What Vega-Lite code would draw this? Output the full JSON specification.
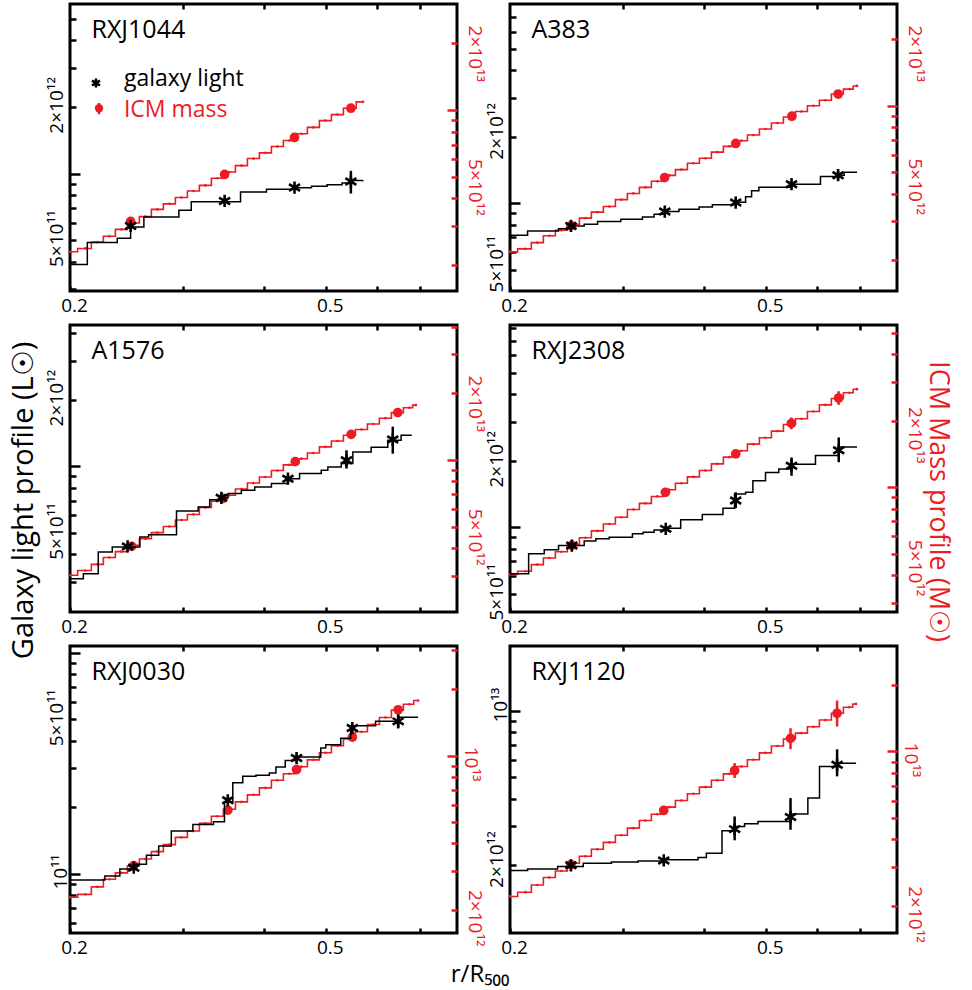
{
"$schema":"https://vega.github.io/schema/vega-lite/v6.json",
"padding":{"left":7,"top":1,"right":7,"bottom":0},
"background":"white",
"bounds":"flush",
"title":{"text":"r/R₅₀₀","orient":"bottom","anchor":"middle","fontSize":24,"font":"Open Sans","fontWeight":"normal","offset":4,"color":"black"},
"config":{"font":"Open Sans","view":{"stroke":"black","strokeWidth":3},
"axis":{"domain":false,"grid":false,"labelFont":"Open Sans","labelFontSize":19,"labelColor":"black","tickColor":"black","tickWidth":2.5,"titleFont":"Open Sans","titleFontWeight":"normal"},
"point":{"opacity":1}},
"datasets":{"d":[
{"p":1,"s":"L","r":0.2,"v":3.89e11},{"p":1,"s":"L","r":0.2128,"v":4.88e11},{"p":1,"s":"L","r":0.2369,"v":5.10e11},{"p":1,"s":"L","r":0.2485,"v":5.74e11},{"p":1,"s":"L","r":0.2606,"v":6.37e11},{"p":1,"s":"L","r":0.2954,"v":6.83e11},{"p":1,"s":"L","r":0.3088,"v":7.45e11},{"p":1,"s":"L","r":0.3684,"v":8.26e11},{"p":1,"s":"L","r":0.4043,"v":8.50e11},{"p":1,"s":"L","r":0.4474,"v":8.62e11},{"p":1,"s":"L","r":0.475,"v":8.75e11},{"p":1,"s":"L","r":0.5023,"v":8.90e11},{"p":1,"s":"L","r":0.53,"v":9.05e11},{"p":1,"s":"L","r":0.5474,"v":9.30e11},{"p":1,"s":"L","r":0.5714,"v":9.33e11},
{"p":1,"s":"Lp","r":0.2485,"v":5.80e11},{"p":1,"s":"Lp","r":0.348,"v":7.52e11},{"p":1,"s":"Lp","r":0.447,"v":8.64e11},{"p":1,"s":"Lp","r":0.547,"v":9.2e11,"lo":8.12e11,"hi":1.028e12},
{"p":1,"s":"M","r":0.2,"v":2.30e12},{"p":1,"s":"M","r":0.2113,"v":2.38e12},{"p":1,"s":"M","r":0.2206,"v":2.54e12},{"p":1,"s":"M","r":0.2303,"v":2.70e12},{"p":1,"s":"M","r":0.2404,"v":2.90e12},{"p":1,"s":"M","r":0.2510,"v":3.10e12},{"p":1,"s":"M","r":0.2620,"v":3.31e12},{"p":1,"s":"M","r":0.2735,"v":3.57e12},{"p":1,"s":"M","r":0.2855,"v":3.78e12},{"p":1,"s":"M","r":0.2981,"v":4.04e12},{"p":1,"s":"M","r":0.3112,"v":4.32e12},{"p":1,"s":"M","r":0.3248,"v":4.58e12},{"p":1,"s":"M","r":0.3391,"v":4.93e12},{"p":1,"s":"M","r":0.3540,"v":5.26e12},{"p":1,"s":"M","r":0.3696,"v":5.62e12},{"p":1,"s":"M","r":0.3858,"v":6.05e12},{"p":1,"s":"M","r":0.4028,"v":6.42e12},{"p":1,"s":"M","r":0.4204,"v":6.86e12},{"p":1,"s":"M","r":0.4389,"v":7.30e12},{"p":1,"s":"M","r":0.4582,"v":7.83e12},{"p":1,"s":"M","r":0.4783,"v":8.36e12},{"p":1,"s":"M","r":0.4993,"v":8.97e12},{"p":1,"s":"M","r":0.5213,"v":9.55e12},{"p":1,"s":"M","r":0.5441,"v":1.02e13},{"p":1,"s":"M","r":0.5714,"v":1.09e13},
{"p":1,"s":"Mp","r":0.2485,"v":3.15e12},{"p":1,"s":"Mp","r":0.348,"v":5.13e12},{"p":1,"s":"Mp","r":0.447,"v":7.53e12},{"p":1,"s":"Mp","r":0.547,"v":1.02e13},
{"p":1,"s":"lab","r":0.216,"v":4.08e12,"t":"RXJ1044"},
{"p":1,"s":"legs","r":0.2195,"v":2.56e12},{"p":1,"s":"legd","r":0.2219,"v":1.97e12,"lo":1.85e12,"hi":2.08e12},
{"p":1,"s":"legL","r":0.2426,"v":2.48e12,"t":"galaxy light"},{"p":1,"s":"legM","r":0.2426,"v":1.80e12,"t":"ICM mass"},

{"p":2,"s":"L","r":0.2,"v":7.16e11},{"p":2,"s":"L","r":0.2130,"v":7.49e11},{"p":2,"s":"L","r":0.2380,"v":7.67e11},{"p":2,"s":"L","r":0.2488,"v":7.89e11},{"p":2,"s":"L","r":0.2609,"v":8.03e11},{"p":2,"s":"L","r":0.2737,"v":8.26e11},{"p":2,"s":"L","r":0.2975,"v":8.46e11},{"p":2,"s":"L","r":0.3214,"v":8.67e11},{"p":2,"s":"L","r":0.3351,"v":8.91e11},{"p":2,"s":"L","r":0.3482,"v":9.17e11},{"p":2,"s":"L","r":0.3664,"v":9.39e11},{"p":2,"s":"L","r":0.3937,"v":9.62e11},{"p":2,"s":"L","r":0.4129,"v":9.83e11},{"p":2,"s":"L","r":0.4489,"v":1.01e12},{"p":2,"s":"L","r":0.4651,"v":1.07e12},{"p":2,"s":"L","r":0.4752,"v":1.14e12},{"p":2,"s":"L","r":0.4878,"v":1.18e12},{"p":2,"s":"L","r":0.5483,"v":1.22e12},{"p":2,"s":"L","r":0.6082,"v":1.32e12},{"p":2,"s":"L","r":0.6478,"v":1.34e12},{"p":2,"s":"L","r":0.662,"v":1.38e12},{"p":2,"s":"L","r":0.6933,"v":1.38e12},
{"p":2,"s":"Lp","r":0.2488,"v":7.89e11},{"p":2,"s":"Lp","r":0.3482,"v":9.17e11},{"p":2,"s":"Lp","r":0.4489,"v":1.007e12},{"p":2,"s":"Lp","r":0.5483,"v":1.22e12},{"p":2,"s":"Lp","r":0.6478,"v":1.34e12,"lo":1.28e12,"hi":1.40e12},
{"p":2,"s":"M","r":0.2,"v":2.18e12},{"p":2,"s":"M","r":0.2113,"v":2.25e12},{"p":2,"s":"M","r":0.2206,"v":2.40e12},{"p":2,"s":"M","r":0.2303,"v":2.58e12},{"p":2,"s":"M","r":0.2404,"v":2.73e12},{"p":2,"s":"M","r":0.2510,"v":2.91e12},{"p":2,"s":"M","r":0.2620,"v":3.10e12},{"p":2,"s":"M","r":0.2735,"v":3.30e12},{"p":2,"s":"M","r":0.2855,"v":3.50e12},{"p":2,"s":"M","r":0.2981,"v":3.76e12},{"p":2,"s":"M","r":0.3112,"v":4.01e12},{"p":2,"s":"M","r":0.3248,"v":4.27e12},{"p":2,"s":"M","r":0.3391,"v":4.55e12},{"p":2,"s":"M","r":0.3540,"v":4.84e12},{"p":2,"s":"M","r":0.3696,"v":5.14e12},{"p":2,"s":"M","r":0.3858,"v":5.49e12},{"p":2,"s":"M","r":0.4028,"v":5.79e12},{"p":2,"s":"M","r":0.4204,"v":6.17e12},{"p":2,"s":"M","r":0.4389,"v":6.55e12},{"p":2,"s":"M","r":0.4582,"v":6.95e12},{"p":2,"s":"M","r":0.4783,"v":7.37e12},{"p":2,"s":"M","r":0.4993,"v":7.85e12},{"p":2,"s":"M","r":0.5213,"v":8.36e12},{"p":2,"s":"M","r":0.5441,"v":8.89e12},{"p":2,"s":"M","r":0.5681,"v":9.42e12},{"p":2,"s":"M","r":0.5930,"v":1.00e13},{"p":2,"s":"M","r":0.6190,"v":1.06e13},{"p":2,"s":"M","r":0.6462,"v":1.13e13},{"p":2,"s":"M","r":0.6746,"v":1.19e13},{"p":2,"s":"M","r":0.6933,"v":1.23e13},
{"p":2,"s":"Mp","r":0.249,"v":2.87e12},{"p":2,"s":"Mp","r":0.348,"v":4.73e12},{"p":2,"s":"Mp","r":0.449,"v":6.75e12},{"p":2,"s":"Mp","r":0.549,"v":8.97e12},{"p":2,"s":"Mp","r":0.648,"v":1.13e13},
{"p":2,"s":"lab","r":0.216,"v":5.61e12,"t":"A383"},

{"p":3,"s":"L","r":0.2,"v":3.11e11},{"p":3,"s":"L","r":0.2098,"v":3.27e11},{"p":3,"s":"L","r":0.2213,"v":4.10e11},{"p":3,"s":"L","r":0.2327,"v":4.32e11},{"p":3,"s":"L","r":0.2569,"v":4.80e11},{"p":3,"s":"L","r":0.2650,"v":4.91e11},{"p":3,"s":"L","r":0.2929,"v":6.28e11},{"p":3,"s":"L","r":0.3165,"v":6.55e11},{"p":3,"s":"L","r":0.3299,"v":7.07e11},{"p":3,"s":"L","r":0.3440,"v":7.21e11},{"p":3,"s":"L","r":0.3523,"v":7.53e11},{"p":3,"s":"L","r":0.3695,"v":7.80e11},{"p":3,"s":"L","r":0.3876,"v":8.07e11},{"p":3,"s":"L","r":0.4115,"v":8.36e11},{"p":3,"s":"L","r":0.4366,"v":8.79e11},{"p":3,"s":"L","r":0.4552,"v":9.27e11},{"p":3,"s":"L","r":0.4919,"v":9.60e11},{"p":3,"s":"L","r":0.5037,"v":9.93e11},{"p":3,"s":"L","r":0.5284,"v":1.03e12},{"p":3,"s":"L","r":0.5509,"v":1.16e12},{"p":3,"s":"L","r":0.5882,"v":1.22e12},{"p":3,"s":"L","r":0.6244,"v":1.31e12},{"p":3,"s":"L","r":0.6548,"v":1.38e12},{"p":3,"s":"L","r":0.6803,"v":1.38e12},
{"p":3,"s":"Lp","r":0.2458,"v":4.35e11},{"p":3,"s":"Lp","r":0.3440,"v":7.21e11},{"p":3,"s":"Lp","r":0.4366,"v":8.79e11},{"p":3,"s":"Lp","r":0.5385,"v":1.064e12,"lo":9.76e11,"hi":1.18e12},{"p":3,"s":"Lp","r":0.6356,"v":1.32e12,"lo":1.14e12,"hi":1.51e12},
{"p":3,"s":"M","r":0.2,"v":3.02e12},{"p":3,"s":"M","r":0.2113,"v":3.17e12},{"p":3,"s":"M","r":0.2206,"v":3.38e12},{"p":3,"s":"M","r":0.2303,"v":3.63e12},{"p":3,"s":"M","r":0.2404,"v":3.86e12},{"p":3,"s":"M","r":0.2510,"v":4.12e12},{"p":3,"s":"M","r":0.2620,"v":4.41e12},{"p":3,"s":"M","r":0.2735,"v":4.70e12},{"p":3,"s":"M","r":0.2855,"v":5.01e12},{"p":3,"s":"M","r":0.2981,"v":5.36e12},{"p":3,"s":"M","r":0.3112,"v":5.68e12},{"p":3,"s":"M","r":0.3248,"v":6.10e12},{"p":3,"s":"M","r":0.3391,"v":6.52e12},{"p":3,"s":"M","r":0.3540,"v":6.93e12},{"p":3,"s":"M","r":0.3696,"v":7.40e12},{"p":3,"s":"M","r":0.3858,"v":7.87e12},{"p":3,"s":"M","r":0.4028,"v":8.38e12},{"p":3,"s":"M","r":0.4204,"v":8.97e12},{"p":3,"s":"M","r":0.4389,"v":9.51e12},{"p":3,"s":"M","r":0.4582,"v":1.014e13},{"p":3,"s":"M","r":0.4783,"v":1.076e13},{"p":3,"s":"M","r":0.4993,"v":1.146e13},{"p":3,"s":"M","r":0.5213,"v":1.219e13},{"p":3,"s":"M","r":0.5441,"v":1.294e13},{"p":3,"s":"M","r":0.5681,"v":1.374e13},{"p":3,"s":"M","r":0.5930,"v":1.455e13},{"p":3,"s":"M","r":0.6190,"v":1.545e13},{"p":3,"s":"M","r":0.6462,"v":1.637e13},{"p":3,"s":"M","r":0.6746,"v":1.722e13},{"p":3,"s":"M","r":0.6906,"v":1.770e13},
{"p":3,"s":"Mp","r":0.2494,"v":4.08e12},{"p":3,"s":"Mp","r":0.3461,"v":6.71e12},{"p":3,"s":"Mp","r":0.4483,"v":9.83e12},{"p":3,"s":"Mp","r":0.5476,"v":1.306e13},{"p":3,"s":"Mp","r":0.647,"v":1.637e13},
{"p":3,"s":"lab","r":0.216,"v":3.05e12,"t":"A1576"},

{"p":4,"s":"L","r":0.2,"v":6.15e11},{"p":4,"s":"L","r":0.2138,"v":7.58e11},{"p":4,"s":"L","r":0.2261,"v":7.90e11},{"p":4,"s":"L","r":0.2380,"v":8.26e11},{"p":4,"s":"L","r":0.2609,"v":8.65e11},{"p":4,"s":"L","r":0.2720,"v":8.86e11},{"p":4,"s":"L","r":0.2853,"v":9.01e11},{"p":4,"s":"L","r":0.3101,"v":9.33e11},{"p":4,"s":"L","r":0.3222,"v":9.49e11},{"p":4,"s":"L","r":0.3351,"v":9.72e11},{"p":4,"s":"L","r":0.3494,"v":9.90e11},{"p":4,"s":"L","r":0.3686,"v":1.08e12},{"p":4,"s":"L","r":0.3983,"v":1.141e12},{"p":4,"s":"L","r":0.4289,"v":1.22e12},{"p":4,"s":"L","r":0.4470,"v":1.415e12},{"p":4,"s":"L","r":0.4651,"v":1.44e12},{"p":4,"s":"L","r":0.4774,"v":1.625e12},{"p":4,"s":"L","r":0.4995,"v":1.77e12},{"p":4,"s":"L","r":0.5239,"v":1.835e12},{"p":4,"s":"L","r":0.5483,"v":1.93e12},{"p":4,"s":"L","r":0.5974,"v":2.11e12},{"p":4,"s":"L","r":0.6493,"v":2.31e12},{"p":4,"s":"L","r":0.6933,"v":2.31e12},
{"p":4,"s":"Lp","r":0.2496,"v":8.26e11},{"p":4,"s":"Lp","r":0.3494,"v":9.83e11},{"p":4,"s":"Lp","r":0.4489,"v":1.32e12,"lo":1.22e12,"hi":1.44e12},{"p":4,"s":"Lp","r":0.5483,"v":1.90e12,"lo":1.71e12,"hi":2.07e12},{"p":4,"s":"Lp","r":0.6493,"v":2.23e12,"lo":1.97e12,"hi":2.55e12},
{"p":4,"s":"M","r":0.2,"v":4.02e12},{"p":4,"s":"M","r":0.2113,"v":4.16e12},{"p":4,"s":"M","r":0.2206,"v":4.46e12},{"p":4,"s":"M","r":0.2303,"v":4.78e12},{"p":4,"s":"M","r":0.2404,"v":5.10e12},{"p":4,"s":"M","r":0.2510,"v":5.50e12},{"p":4,"s":"M","r":0.2620,"v":5.90e12},{"p":4,"s":"M","r":0.2735,"v":6.34e12},{"p":4,"s":"M","r":0.2855,"v":6.81e12},{"p":4,"s":"M","r":0.2981,"v":7.31e12},{"p":4,"s":"M","r":0.3112,"v":7.92e12},{"p":4,"s":"M","r":0.3248,"v":8.45e12},{"p":4,"s":"M","r":0.3391,"v":9.08e12},{"p":4,"s":"M","r":0.3540,"v":9.73e12},{"p":4,"s":"M","r":0.3696,"v":1.042e13},{"p":4,"s":"M","r":0.3858,"v":1.114e13},{"p":4,"s":"M","r":0.4028,"v":1.19e13},{"p":4,"s":"M","r":0.4204,"v":1.276e13},{"p":4,"s":"M","r":0.4389,"v":1.368e13},{"p":4,"s":"M","r":0.4582,"v":1.462e13},{"p":4,"s":"M","r":0.4783,"v":1.567e13},{"p":4,"s":"M","r":0.4993,"v":1.675e13},{"p":4,"s":"M","r":0.5213,"v":1.795e13},{"p":4,"s":"M","r":0.5441,"v":1.923e13},{"p":4,"s":"M","r":0.5681,"v":2.042e13},{"p":4,"s":"M","r":0.5930,"v":2.203e13},{"p":4,"s":"M","r":0.6190,"v":2.360e13},{"p":4,"s":"M","r":0.6462,"v":2.523e13},{"p":4,"s":"M","r":0.6746,"v":2.679e13},{"p":4,"s":"M","r":0.6933,"v":2.780e13},
{"p":4,"s":"Mp","r":0.2496,"v":5.45e12},{"p":4,"s":"Mp","r":0.349,"v":9.48e12},{"p":4,"s":"Mp","r":0.449,"v":1.416e13},{"p":4,"s":"Mp","r":0.548,"v":1.945e13,"lo":1.83e13,"hi":2.07e13},{"p":4,"s":"Mp","r":0.649,"v":2.535e13,"lo":2.36e13,"hi":2.72e13},
{"p":4,"s":"lab","r":0.216,"v":5.78e12,"t":"RXJ2308"},

{"p":5,"s":"L","r":0.2,"v":9.36e10},{"p":5,"s":"L","r":0.2266,"v":9.76e10},{"p":5,"s":"L","r":0.2391,"v":1.05e11},{"p":5,"s":"L","r":0.2507,"v":1.102e11},{"p":5,"s":"L","r":0.2630,"v":1.21e11},{"p":5,"s":"L","r":0.2748,"v":1.333e11},{"p":5,"s":"L","r":0.2875,"v":1.56e11},{"p":5,"s":"L","r":0.3106,"v":1.67e11},{"p":5,"s":"L","r":0.3344,"v":1.718e11},{"p":5,"s":"L","r":0.3478,"v":2.11e11},{"p":5,"s":"L","r":0.3583,"v":2.58e11},{"p":5,"s":"L","r":0.3713,"v":2.76e11},{"p":5,"s":"L","r":0.3894,"v":2.79e11},{"p":5,"s":"L","r":0.4084,"v":2.86e11},{"p":5,"s":"L","r":0.4182,"v":3.04e11},{"p":5,"s":"L","r":0.4324,"v":3.26e11},{"p":5,"s":"L","r":0.4503,"v":3.38e11},{"p":5,"s":"L","r":0.4911,"v":3.71e11},{"p":5,"s":"L","r":0.4999,"v":3.84e11},{"p":5,"s":"L","r":0.5275,"v":4.11e11},{"p":5,"s":"L","r":0.5466,"v":4.68e11},{"p":5,"s":"L","r":0.5976,"v":4.90e11},{"p":5,"s":"L","r":0.6495,"v":5.12e11},{"p":5,"s":"L","r":0.6959,"v":5.12e11},
{"p":5,"s":"Lp","r":0.2513,"v":1.064e11},{"p":5,"s":"Lp","r":0.352,"v":2.15e11},{"p":5,"s":"Lp","r":0.4503,"v":3.34e11},{"p":5,"s":"Lp","r":0.5499,"v":4.57e11},{"p":5,"s":"Lp","r":0.648,"v":4.90e11,"lo":4.55e11,"hi":5.28e11},
{"p":5,"s":"M","r":0.2,"v":2.28e12},{"p":5,"s":"M","r":0.2113,"v":2.35e12},{"p":5,"s":"M","r":0.2206,"v":2.54e12},{"p":5,"s":"M","r":0.2303,"v":2.75e12},{"p":5,"s":"M","r":0.2404,"v":2.94e12},{"p":5,"s":"M","r":0.2510,"v":3.16e12},{"p":5,"s":"M","r":0.2620,"v":3.40e12},{"p":5,"s":"M","r":0.2735,"v":3.67e12},{"p":5,"s":"M","r":0.2855,"v":3.95e12},{"p":5,"s":"M","r":0.2981,"v":4.26e12},{"p":5,"s":"M","r":0.3112,"v":4.55e12},{"p":5,"s":"M","r":0.3248,"v":4.93e12},{"p":5,"s":"M","r":0.3391,"v":5.31e12},{"p":5,"s":"M","r":0.3540,"v":5.71e12},{"p":5,"s":"M","r":0.3696,"v":6.17e12},{"p":5,"s":"M","r":0.3858,"v":6.64e12},{"p":5,"s":"M","r":0.4028,"v":7.14e12},{"p":5,"s":"M","r":0.4204,"v":7.73e12},{"p":5,"s":"M","r":0.4389,"v":8.28e12},{"p":5,"s":"M","r":0.4582,"v":8.91e12},{"p":5,"s":"M","r":0.4783,"v":9.57e12},{"p":5,"s":"M","r":0.4993,"v":1.030e13},{"p":5,"s":"M","r":0.5213,"v":1.109e13},{"p":5,"s":"M","r":0.5441,"v":1.191e13},{"p":5,"s":"M","r":0.5681,"v":1.282e13},{"p":5,"s":"M","r":0.5930,"v":1.384e13},{"p":5,"s":"M","r":0.6190,"v":1.489e13},{"p":5,"s":"M","r":0.6462,"v":1.607e13},{"p":5,"s":"M","r":0.6746,"v":1.710e13},{"p":5,"s":"M","r":0.6959,"v":1.778e13},
{"p":5,"s":"Mp","r":0.2513,"v":3.17e12},{"p":5,"s":"Mp","r":0.352,"v":5.66e12},{"p":5,"s":"Mp","r":0.4503,"v":8.65e12},{"p":5,"s":"Mp","r":0.5499,"v":1.213e13},{"p":5,"s":"Mp","r":0.648,"v":1.614e13},
{"p":5,"s":"lab","r":0.216,"v":7.55e11,"t":"RXJ0030"},

{"p":6,"s":"L","r":0.2,"v":1.892e12},{"p":6,"s":"L","r":0.2130,"v":1.918e12},{"p":6,"s":"L","r":0.2372,"v":1.97e12},{"p":6,"s":"L","r":0.2600,"v":2.04e12},{"p":6,"s":"L","r":0.2877,"v":2.065e12},{"p":6,"s":"L","r":0.3165,"v":2.085e12},{"p":6,"s":"L","r":0.3469,"v":2.115e12},{"p":6,"s":"L","r":0.3923,"v":2.167e12},{"p":6,"s":"L","r":0.4041,"v":2.265e12},{"p":6,"s":"L","r":0.4274,"v":2.86e12},{"p":6,"s":"L","r":0.4472,"v":2.99e12},{"p":6,"s":"L","r":0.4634,"v":3.08e12},{"p":6,"s":"L","r":0.4861,"v":3.15e12},{"p":6,"s":"L","r":0.5463,"v":3.41e12},{"p":6,"s":"L","r":0.5813,"v":4.02e12},{"p":6,"s":"L","r":0.6061,"v":5.58e12},{"p":6,"s":"L","r":0.6455,"v":5.78e12},{"p":6,"s":"L","r":0.6909,"v":5.78e12},
{"p":6,"s":"Lp","r":0.2488,"v":1.995e12},{"p":6,"s":"Lp","r":0.3469,"v":2.10e12},{"p":6,"s":"Lp","r":0.4472,"v":2.91e12,"lo":2.59e12,"hi":3.32e12},{"p":6,"s":"Lp","r":0.5463,"v":3.30e12,"lo":2.89e12,"hi":4.02e12},{"p":6,"s":"Lp","r":0.6455,"v":5.69e12,"lo":5.04e12,"hi":6.68e12},
{"p":6,"s":"M","r":0.2,"v":2.21e12},{"p":6,"s":"M","r":0.2113,"v":2.31e12},{"p":6,"s":"M","r":0.2206,"v":2.49e12},{"p":6,"s":"M","r":0.2303,"v":2.69e12},{"p":6,"s":"M","r":0.2404,"v":2.88e12},{"p":6,"s":"M","r":0.2510,"v":3.12e12},{"p":6,"s":"M","r":0.2620,"v":3.36e12},{"p":6,"s":"M","r":0.2735,"v":3.61e12},{"p":6,"s":"M","r":0.2855,"v":3.88e12},{"p":6,"s":"M","r":0.2981,"v":4.18e12},{"p":6,"s":"M","r":0.3112,"v":4.50e12},{"p":6,"s":"M","r":0.3248,"v":4.87e12},{"p":6,"s":"M","r":0.3391,"v":5.20e12},{"p":6,"s":"M","r":0.3540,"v":5.60e12},{"p":6,"s":"M","r":0.3696,"v":6.00e12},{"p":6,"s":"M","r":0.3858,"v":6.44e12},{"p":6,"s":"M","r":0.4028,"v":6.90e12},{"p":6,"s":"M","r":0.4204,"v":7.41e12},{"p":6,"s":"M","r":0.4389,"v":7.92e12},{"p":6,"s":"M","r":0.4582,"v":8.55e12},{"p":6,"s":"M","r":0.4783,"v":9.18e12},{"p":6,"s":"M","r":0.4993,"v":9.86e12},{"p":6,"s":"M","r":0.5213,"v":1.059e13},{"p":6,"s":"M","r":0.5441,"v":1.138e13},{"p":6,"s":"M","r":0.5681,"v":1.211e13},{"p":6,"s":"M","r":0.5930,"v":1.294e13},{"p":6,"s":"M","r":0.6190,"v":1.387e13},{"p":6,"s":"M","r":0.6462,"v":1.489e13},{"p":6,"s":"M","r":0.6746,"v":1.585e13},{"p":6,"s":"M","r":0.6909,"v":1.641e13},
{"p":6,"s":"Mp","r":0.2488,"v":3.08e12},{"p":6,"s":"Mp","r":0.3469,"v":5.41e12,"lo":5.2e12,"hi":5.6e12},{"p":6,"s":"Mp","r":0.4472,"v":8.20e12,"lo":7.59e12,"hi":8.86e12},{"p":6,"s":"Mp","r":0.5463,"v":1.146e13,"lo":1.025e13,"hi":1.274e13},{"p":6,"s":"Mp","r":0.6455,"v":1.489e13,"lo":1.297e13,"hi":1.70e13},
{"p":6,"s":"lab","r":0.216,"v":1.374e13,"t":"RXJ1120"}
]},
"data":{"name":"d"},
"columns":2,
"spacing":{"row":34,"column":53},
"concat":[
{"width":387,"height":287,"resolve":{"scale":{"y":"independent"},"axis":{"x":"independent","y":"independent"}},
"layer":[
{"layer":[
{"transform":[{"filter":"datum.p==1&&datum.s=='M'"}],"mark":{"type":"line","interpolate":"step","color":"#ed1c24","strokeWidth":1.6},"encoding":{"x":{"field":"r","type":"quantitative","scale":{"type":"log","domain":[0.2,0.8],"nice":false},"axis":{"orient":"top","values":[0.3,0.4,0.5,0.6,0.7],"labels":false,"tickSize":-5,"title":null}},"y":{"field":"v","type":"quantitative","scale":{"type":"log","domain":[1.53e12,3.01e13],"nice":false},"axis":{"orient":"right","title":null,"values":[2e12,3e12,4e12,5e12,6e12,7e12,8e12,9e12,1e13,2e13],"labelExpr":"datum.value==5e12?'5×10¹²':datum.value==2e13?'2×10¹³':''","labelAngle":90,"labelAlign":"center","labelBaseline":"bottom","labelColor":"#ed1c24","labelFontSize":19,"tickColor":"#ed1c24","tickSize":{"condition":{"test":"datum.value==1e13","value":-10},"value":-6},"labelPadding":13,"labelOffset":10,"labelOverlap":false}}}},
{"transform":[{"filter":"datum.p==1&&datum.s=='M'"}],"mark":{"type":"point","filled":true,"size":7,"color":"#ed1c24"},"encoding":{"x":{"field":"r","type":"quantitative","scale":{"type":"log","domain":[0.2,0.8],"nice":false}},"y":{"field":"v","type":"quantitative","scale":{"type":"log","domain":[1.53e12,3.01e13],"nice":false}}}},
{"transform":[{"filter":"datum.p==1&&datum.s=='Mp'"}],"mark":{"type":"point","filled":true,"size":95,"color":"#ed1c24"},"encoding":{"x":{"field":"r","type":"quantitative","scale":{"type":"log","domain":[0.2,0.8],"nice":false}},"y":{"field":"v","type":"quantitative","scale":{"type":"log","domain":[1.53e12,3.01e13],"nice":false}}}}
]},
{"layer":[
{"transform":[{"filter":"datum.p==1&&datum.s=='L'"}],"mark":{"type":"line","interpolate":"step-after","color":"black","strokeWidth":1.5},"encoding":{"x":{"field":"r","type":"quantitative","scale":{"type":"log","domain":[0.2,0.8],"nice":false},"axis":{"orient":"bottom","values":[0.2,0.3,0.4,0.5,0.6,0.7],"labelExpr":"datum.value==0.2?'0.2':datum.value==0.5?'0.5':''","labelFontSize":19,"tickSize":-5,"labelPadding":10,"labelFlush":false,"labelOffset":4,"labelOverlap":false,"title":null}},"y":{"field":"v","type":"quantitative","scale":{"type":"log","domain":[2.95e11,5.82e12],"nice":false},"axis":{"orient":"left","title":null,"values":[3e11,4e11,5e11,6e11,7e11,8e11,9e11,1e12,2e12,3e12,4e12,5e12],"labelExpr":"datum.value==5e11?'5×10¹¹':datum.value==2e12?'2×10¹²':''","labelAngle":270,"labelAlign":"center","labelBaseline":"bottom","labelFontSize":19,"tickSize":{"condition":{"test":"datum.value==1e11||datum.value==1e12||datum.value==1e13","value":-10},"value":-6},"labelPadding":10,"labelOffset":-2,"labelOverlap":false}}}},
{"transform":[{"filter":"datum.p==1&&datum.s=='Lp'&&isValid(datum.lo)"}],"mark":{"type":"rule","color":"black","strokeWidth":2.5},"encoding":{"x":{"field":"r","type":"quantitative","scale":{"type":"log","domain":[0.2,0.8],"nice":false}},"y":{"field":"lo","type":"quantitative","scale":{"type":"log","domain":[2.95e11,5.82e12],"nice":false}},"y2":{"field":"hi"}}},
{"transform":[{"filter":"datum.p==1&&datum.s=='Lp'"}],"mark":{"type":"point","shape":"M-0.9,-0.55L0.9,0.55M-0.9,0.55L0.9,-0.55M0,-1L0,1","filled":false,"color":"black","strokeWidth":2.6,"size":150},"encoding":{"x":{"field":"r","type":"quantitative","scale":{"type":"log","domain":[0.2,0.8],"nice":false}},"y":{"field":"v","type":"quantitative","scale":{"type":"log","domain":[2.95e11,5.82e12],"nice":false}}}},
{"transform":[{"filter":"datum.p==1&&datum.s=='lab'"}],"mark":{"type":"text","align":"left","baseline":"alphabetic","fontSize":25,"color":"black"},"encoding":{"x":{"field":"r","type":"quantitative","scale":{"type":"log","domain":[0.2,0.8],"nice":false}},"y":{"field":"v","type":"quantitative","scale":{"type":"log","domain":[2.95e11,5.82e12],"nice":false}},"text":{"field":"t"}}},
{"transform":[{"filter":"datum.p==1&&datum.s=='legs'"}],"mark":{"type":"point","shape":"M-0.9,-0.55L0.9,0.55M-0.9,0.55L0.9,-0.55M0,-1L0,1","filled":false,"color":"black","strokeWidth":2.6,"size":80},"encoding":{"x":{"field":"r","type":"quantitative","scale":{"type":"log","domain":[0.2,0.8],"nice":false}},"y":{"field":"v","type":"quantitative","scale":{"type":"log","domain":[2.95e11,5.82e12],"nice":false}}}},
{"transform":[{"filter":"datum.p==1&&datum.s=='legd'"}],"mark":{"type":"rule","color":"#ed1c24","strokeWidth":2.5},"encoding":{"x":{"field":"r","type":"quantitative","scale":{"type":"log","domain":[0.2,0.8],"nice":false}},"y":{"field":"lo","type":"quantitative","scale":{"type":"log","domain":[2.95e11,5.82e12],"nice":false}},"y2":{"field":"hi"}}},
{"transform":[{"filter":"datum.p==1&&datum.s=='legd'"}],"mark":{"type":"point","filled":true,"size":70,"color":"#ed1c24"},"encoding":{"x":{"field":"r","type":"quantitative","scale":{"type":"log","domain":[0.2,0.8],"nice":false}},"y":{"field":"v","type":"quantitative","scale":{"type":"log","domain":[2.95e11,5.82e12],"nice":false}}}},
{"transform":[{"filter":"datum.p==1&&datum.s=='legL'"}],"mark":{"type":"text","align":"left","baseline":"alphabetic","fontSize":23,"color":"black"},"encoding":{"x":{"field":"r","type":"quantitative","scale":{"type":"log","domain":[0.2,0.8],"nice":false}},"y":{"field":"v","type":"quantitative","scale":{"type":"log","domain":[2.95e11,5.82e12],"nice":false}},"text":{"field":"t"}}},
{"transform":[{"filter":"datum.p==1&&datum.s=='legM'"}],"mark":{"type":"text","align":"left","baseline":"alphabetic","fontSize":23,"color":"#ed1c24"},"encoding":{"x":{"field":"r","type":"quantitative","scale":{"type":"log","domain":[0.2,0.8],"nice":false}},"y":{"field":"v","type":"quantitative","scale":{"type":"log","domain":[2.95e11,5.82e12],"nice":false}},"text":{"field":"t"}}}
]}
]},

{"width":387,"height":287,"resolve":{"scale":{"y":"independent"},"axis":{"x":"independent","y":"independent"}},
"layer":[
{"layer":[
{"transform":[{"filter":"datum.p==2&&datum.s=='M'"}],"mark":{"type":"line","interpolate":"step","color":"#ed1c24","strokeWidth":1.6},"encoding":{"x":{"field":"r","type":"quantitative","scale":{"type":"log","domain":[0.2,0.8],"nice":false},"axis":{"orient":"top","values":[0.3,0.4,0.5,0.6,0.7],"labels":false,"tickSize":-5,"title":null}},"y":{"field":"v","type":"quantitative","scale":{"type":"log","domain":[1.45e12,2.89e13],"nice":false},"axis":{"orient":"right","title":null,"values":[2e12,3e12,4e12,5e12,6e12,7e12,8e12,9e12,1e13,2e13],"labelExpr":"datum.value==5e12?'5×10¹²':datum.value==2e13?'2×10¹³':''","labelAngle":90,"labelAlign":"center","labelBaseline":"bottom","labelColor":"#ed1c24","labelFontSize":19,"tickColor":"#ed1c24","tickSize":{"condition":{"test":"datum.value==1e13","value":-10},"value":-6},"labelPadding":13,"labelOffset":14,"labelOverlap":false}}}},
{"transform":[{"filter":"datum.p==2&&datum.s=='M'"}],"mark":{"type":"point","filled":true,"size":7,"color":"#ed1c24"},"encoding":{"x":{"field":"r","type":"quantitative","scale":{"type":"log","domain":[0.2,0.8],"nice":false}},"y":{"field":"v","type":"quantitative","scale":{"type":"log","domain":[1.45e12,2.89e13],"nice":false}}}},
{"transform":[{"filter":"datum.p==2&&datum.s=='Mp'"}],"mark":{"type":"point","filled":true,"size":95,"color":"#ed1c24"},"encoding":{"x":{"field":"r","type":"quantitative","scale":{"type":"log","domain":[0.2,0.8],"nice":false}},"y":{"field":"v","type":"quantitative","scale":{"type":"log","domain":[1.45e12,2.89e13],"nice":false}}}}
]},
{"layer":[
{"transform":[{"filter":"datum.p==2&&datum.s=='L'"}],"mark":{"type":"line","interpolate":"step-after","color":"black","strokeWidth":1.5},"encoding":{"x":{"field":"r","type":"quantitative","scale":{"type":"log","domain":[0.2,0.8],"nice":false},"axis":{"orient":"bottom","values":[0.2,0.3,0.4,0.5,0.6,0.7],"labelExpr":"datum.value==0.2?'0.2':datum.value==0.5?'0.5':''","labelFontSize":19,"tickSize":-5,"labelPadding":10,"labelFlush":false,"labelOffset":4,"labelOverlap":false,"title":null}},"y":{"field":"v","type":"quantitative","scale":{"type":"log","domain":[4.0e11,8.0e12],"nice":false},"axis":{"orient":"left","title":null,"values":[5e11,6e11,7e11,8e11,9e11,1e12,2e12,3e12,4e12,5e12,6e12,7e12],"labelExpr":"datum.value==5e11?'5×10¹¹':datum.value==2e12?'2×10¹²':''","labelAngle":270,"labelAlign":"center","labelBaseline":"bottom","labelFontSize":19,"tickSize":{"condition":{"test":"datum.value==1e11||datum.value==1e12||datum.value==1e13","value":-10},"value":-6},"labelPadding":10,"labelOffset":-6,"labelOverlap":false}}}},
{"transform":[{"filter":"datum.p==2&&datum.s=='Lp'&&isValid(datum.lo)"}],"mark":{"type":"rule","color":"black","strokeWidth":2.5},"encoding":{"x":{"field":"r","type":"quantitative","scale":{"type":"log","domain":[0.2,0.8],"nice":false}},"y":{"field":"lo","type":"quantitative","scale":{"type":"log","domain":[4.0e11,8.0e12],"nice":false}},"y2":{"field":"hi"}}},
{"transform":[{"filter":"datum.p==2&&datum.s=='Lp'"}],"mark":{"type":"point","shape":"M-0.9,-0.55L0.9,0.55M-0.9,0.55L0.9,-0.55M0,-1L0,1","filled":false,"color":"black","strokeWidth":2.6,"size":150},"encoding":{"x":{"field":"r","type":"quantitative","scale":{"type":"log","domain":[0.2,0.8],"nice":false}},"y":{"field":"v","type":"quantitative","scale":{"type":"log","domain":[4.0e11,8.0e12],"nice":false}}}},
{"transform":[{"filter":"datum.p==2&&datum.s=='lab'"}],"mark":{"type":"text","align":"left","baseline":"alphabetic","fontSize":25,"color":"black"},"encoding":{"x":{"field":"r","type":"quantitative","scale":{"type":"log","domain":[0.2,0.8],"nice":false}},"y":{"field":"v","type":"quantitative","scale":{"type":"log","domain":[4.0e11,8.0e12],"nice":false}},"text":{"field":"t"}}}
]}
]},

{"width":387,"height":287,"resolve":{"scale":{"y":"independent"},"axis":{"x":"independent","y":"independent"}},
"layer":[
{"layer":[
{"transform":[{"filter":"datum.p==3&&datum.s=='M'"}],"mark":{"type":"line","interpolate":"step","color":"#ed1c24","strokeWidth":1.6},"encoding":{"x":{"field":"r","type":"quantitative","scale":{"type":"log","domain":[0.2,0.8],"nice":false},"axis":{"orient":"top","values":[0.3,0.4,0.5,0.6,0.7],"labels":false,"tickSize":-5,"title":null}},"y":{"field":"v","type":"quantitative","scale":{"type":"log","domain":[2.06e12,4.07e13],"nice":false},"axis":{"orient":"right","title":null,"values":[3e12,4e12,5e12,6e12,7e12,8e12,9e12,1e13,2e13,3e13,4e13],"labelExpr":"datum.value==5e12?'5×10¹²':datum.value==2e13?'2×10¹³':''","labelAngle":90,"labelAlign":"center","labelBaseline":"bottom","labelColor":"#ed1c24","labelFontSize":19,"tickColor":"#ed1c24","tickSize":{"condition":{"test":"datum.value==1e13","value":-10},"value":-6},"labelPadding":13,"labelOffset":10,"labelOverlap":false}}}},
{"transform":[{"filter":"datum.p==3&&datum.s=='M'"}],"mark":{"type":"point","filled":true,"size":7,"color":"#ed1c24"},"encoding":{"x":{"field":"r","type":"quantitative","scale":{"type":"log","domain":[0.2,0.8],"nice":false}},"y":{"field":"v","type":"quantitative","scale":{"type":"log","domain":[2.06e12,4.07e13],"nice":false}}}},
{"transform":[{"filter":"datum.p==3&&datum.s=='Mp'"}],"mark":{"type":"point","filled":true,"size":95,"color":"#ed1c24"},"encoding":{"x":{"field":"r","type":"quantitative","scale":{"type":"log","domain":[0.2,0.8],"nice":false}},"y":{"field":"v","type":"quantitative","scale":{"type":"log","domain":[2.06e12,4.07e13],"nice":false}}}}
]},
{"layer":[
{"transform":[{"filter":"datum.p==3&&datum.s=='L'"}],"mark":{"type":"line","interpolate":"step-after","color":"black","strokeWidth":1.5},"encoding":{"x":{"field":"r","type":"quantitative","scale":{"type":"log","domain":[0.2,0.8],"nice":false},"axis":{"orient":"bottom","values":[0.2,0.3,0.4,0.5,0.6,0.7],"labelExpr":"datum.value==0.2?'0.2':datum.value==0.5?'0.5':''","labelFontSize":19,"tickSize":-5,"labelPadding":10,"labelFlush":false,"labelOffset":4,"labelOverlap":false,"title":null}},"y":{"field":"v","type":"quantitative","scale":{"type":"log","domain":[2.2e11,4.34e12],"nice":false},"axis":{"orient":"left","title":"Galaxy light profile (L☉)","titleFontSize":29,"titleColor":"black","titleY":175,"titlePadding":9,"values":[3e11,4e11,5e11,6e11,7e11,8e11,9e11,1e12,2e12,3e12,4e12],"labelExpr":"datum.value==5e11?'5×10¹¹':datum.value==2e12?'2×10¹²':''","labelAngle":270,"labelAlign":"center","labelBaseline":"bottom","labelFontSize":19,"tickSize":{"condition":{"test":"datum.value==1e11||datum.value==1e12||datum.value==1e13","value":-10},"value":-6},"labelPadding":10,"labelOffset":-2,"labelOverlap":false}}}},
{"transform":[{"filter":"datum.p==3&&datum.s=='Lp'&&isValid(datum.lo)"}],"mark":{"type":"rule","color":"black","strokeWidth":2.5},"encoding":{"x":{"field":"r","type":"quantitative","scale":{"type":"log","domain":[0.2,0.8],"nice":false}},"y":{"field":"lo","type":"quantitative","scale":{"type":"log","domain":[2.2e11,4.34e12],"nice":false}},"y2":{"field":"hi"}}},
{"transform":[{"filter":"datum.p==3&&datum.s=='Lp'"}],"mark":{"type":"point","shape":"M-0.9,-0.55L0.9,0.55M-0.9,0.55L0.9,-0.55M0,-1L0,1","filled":false,"color":"black","strokeWidth":2.6,"size":150},"encoding":{"x":{"field":"r","type":"quantitative","scale":{"type":"log","domain":[0.2,0.8],"nice":false}},"y":{"field":"v","type":"quantitative","scale":{"type":"log","domain":[2.2e11,4.34e12],"nice":false}}}},
{"transform":[{"filter":"datum.p==3&&datum.s=='lab'"}],"mark":{"type":"text","align":"left","baseline":"alphabetic","fontSize":25,"color":"black"},"encoding":{"x":{"field":"r","type":"quantitative","scale":{"type":"log","domain":[0.2,0.8],"nice":false}},"y":{"field":"v","type":"quantitative","scale":{"type":"log","domain":[2.2e11,4.34e12],"nice":false}},"text":{"field":"t"}}}
]}
]},

{"width":387,"height":287,"resolve":{"scale":{"y":"independent"},"axis":{"x":"independent","y":"independent"}},
"layer":[
{"layer":[
{"transform":[{"filter":"datum.p==4&&datum.s=='M'"}],"mark":{"type":"line","interpolate":"step","color":"#ed1c24","strokeWidth":1.6},"encoding":{"x":{"field":"r","type":"quantitative","scale":{"type":"log","domain":[0.2,0.8],"nice":false},"axis":{"orient":"top","values":[0.3,0.4,0.5,0.6,0.7],"labels":false,"tickSize":-5,"title":null}},"y":{"field":"v","type":"quantitative","scale":{"type":"log","domain":[2.72e12,5.43e13],"nice":false},"axis":{"orient":"right","title":"ICM Mass profile (M☉)","titleFontSize":27,"titleColor":"#ed1c24","titleY":176,"titlePadding":0,"values":[3e12,4e12,5e12,6e12,7e12,8e12,9e12,1e13,2e13,3e13,4e13,5e13],"labelExpr":"datum.value==5e12?'5×10¹²':datum.value==2e13?'2×10¹³':''","labelAngle":90,"labelAlign":"center","labelBaseline":"bottom","labelColor":"#ed1c24","labelFontSize":19,"tickColor":"#ed1c24","tickSize":{"condition":{"test":"datum.value==1e13","value":-10},"value":-6},"labelPadding":13,"labelOffset":14,"labelOverlap":false}}}},
{"transform":[{"filter":"datum.p==4&&datum.s=='M'"}],"mark":{"type":"point","filled":true,"size":7,"color":"#ed1c24"},"encoding":{"x":{"field":"r","type":"quantitative","scale":{"type":"log","domain":[0.2,0.8],"nice":false}},"y":{"field":"v","type":"quantitative","scale":{"type":"log","domain":[2.72e12,5.43e13],"nice":false}}}},
{"transform":[{"filter":"datum.p==4&&datum.s=='Mp'&&isValid(datum.lo)"}],"mark":{"type":"rule","color":"#ed1c24","strokeWidth":2.5},"encoding":{"x":{"field":"r","type":"quantitative","scale":{"type":"log","domain":[0.2,0.8],"nice":false}},"y":{"field":"lo","type":"quantitative","scale":{"type":"log","domain":[2.72e12,5.43e13],"nice":false}},"y2":{"field":"hi"}}},
{"transform":[{"filter":"datum.p==4&&datum.s=='Mp'"}],"mark":{"type":"point","filled":true,"size":95,"color":"#ed1c24"},"encoding":{"x":{"field":"r","type":"quantitative","scale":{"type":"log","domain":[0.2,0.8],"nice":false}},"y":{"field":"v","type":"quantitative","scale":{"type":"log","domain":[2.72e12,5.43e13],"nice":false}}}}
]},
{"layer":[
{"transform":[{"filter":"datum.p==4&&datum.s=='L'"}],"mark":{"type":"line","interpolate":"step-after","color":"black","strokeWidth":1.5},"encoding":{"x":{"field":"r","type":"quantitative","scale":{"type":"log","domain":[0.2,0.8],"nice":false},"axis":{"orient":"bottom","values":[0.2,0.3,0.4,0.5,0.6,0.7],"labelExpr":"datum.value==0.2?'0.2':datum.value==0.5?'0.5':''","labelFontSize":19,"tickSize":-5,"labelPadding":10,"labelFlush":false,"labelOffset":4,"labelOverlap":false,"title":null}},"y":{"field":"v","type":"quantitative","scale":{"type":"log","domain":[4.13e11,8.24e12],"nice":false},"axis":{"orient":"left","title":null,"values":[5e11,6e11,7e11,8e11,9e11,1e12,2e12,3e12,4e12,5e12,6e12,7e12,8e12],"labelExpr":"datum.value==5e11?'5×10¹¹':datum.value==2e12?'2×10¹²':''","labelAngle":270,"labelAlign":"center","labelBaseline":"bottom","labelFontSize":19,"tickSize":{"condition":{"test":"datum.value==1e11||datum.value==1e12||datum.value==1e13","value":-10},"value":-6},"labelPadding":10,"labelOffset":-2,"labelOverlap":false}}}},
{"transform":[{"filter":"datum.p==4&&datum.s=='Lp'&&isValid(datum.lo)"}],"mark":{"type":"rule","color":"black","strokeWidth":2.5},"encoding":{"x":{"field":"r","type":"quantitative","scale":{"type":"log","domain":[0.2,0.8],"nice":false}},"y":{"field":"lo","type":"quantitative","scale":{"type":"log","domain":[4.13e11,8.24e12],"nice":false}},"y2":{"field":"hi"}}},
{"transform":[{"filter":"datum.p==4&&datum.s=='Lp'"}],"mark":{"type":"point","shape":"M-0.9,-0.55L0.9,0.55M-0.9,0.55L0.9,-0.55M0,-1L0,1","filled":false,"color":"black","strokeWidth":2.6,"size":150},"encoding":{"x":{"field":"r","type":"quantitative","scale":{"type":"log","domain":[0.2,0.8],"nice":false}},"y":{"field":"v","type":"quantitative","scale":{"type":"log","domain":[4.13e11,8.24e12],"nice":false}}}},
{"transform":[{"filter":"datum.p==4&&datum.s=='lab'"}],"mark":{"type":"text","align":"left","baseline":"alphabetic","fontSize":25,"color":"black"},"encoding":{"x":{"field":"r","type":"quantitative","scale":{"type":"log","domain":[0.2,0.8],"nice":false}},"y":{"field":"v","type":"quantitative","scale":{"type":"log","domain":[4.13e11,8.24e12],"nice":false}},"text":{"field":"t"}}}
]}
]},

{"width":387,"height":287,"resolve":{"scale":{"y":"independent"},"axis":{"x":"independent","y":"independent"}},
"layer":[
{"layer":[
{"transform":[{"filter":"datum.p==5&&datum.s=='M'"}],"mark":{"type":"line","interpolate":"step","color":"#ed1c24","strokeWidth":1.6},"encoding":{"x":{"field":"r","type":"quantitative","scale":{"type":"log","domain":[0.2,0.8],"nice":false},"axis":{"orient":"top","values":[0.3,0.4,0.5,0.6,0.7],"labels":false,"tickSize":-5,"title":null}},"y":{"field":"v","type":"quantitative","scale":{"type":"log","domain":[1.57e12,3.14e13],"nice":false},"axis":{"orient":"right","title":null,"values":[2e12,3e12,4e12,5e12,6e12,7e12,8e12,9e12,1e13,2e13,3e13],"labelExpr":"datum.value==2e12?'2×10¹²':datum.value==1e13?'10¹³':''","labelAngle":90,"labelAlign":"center","labelBaseline":"bottom","labelColor":"#ed1c24","labelFontSize":19,"tickColor":"#ed1c24","tickSize":{"condition":{"test":"datum.value==1e13","value":-10},"value":-6},"labelPadding":13,"labelOffset":8,"labelOverlap":false}}}},
{"transform":[{"filter":"datum.p==5&&datum.s=='M'"}],"mark":{"type":"point","filled":true,"size":7,"color":"#ed1c24"},"encoding":{"x":{"field":"r","type":"quantitative","scale":{"type":"log","domain":[0.2,0.8],"nice":false}},"y":{"field":"v","type":"quantitative","scale":{"type":"log","domain":[1.57e12,3.14e13],"nice":false}}}},
{"transform":[{"filter":"datum.p==5&&datum.s=='Mp'"}],"mark":{"type":"point","filled":true,"size":95,"color":"#ed1c24"},"encoding":{"x":{"field":"r","type":"quantitative","scale":{"type":"log","domain":[0.2,0.8],"nice":false}},"y":{"field":"v","type":"quantitative","scale":{"type":"log","domain":[1.57e12,3.14e13],"nice":false}}}}
]},
{"layer":[
{"transform":[{"filter":"datum.p==5&&datum.s=='L'"}],"mark":{"type":"line","interpolate":"step-after","color":"black","strokeWidth":1.5},"encoding":{"x":{"field":"r","type":"quantitative","scale":{"type":"log","domain":[0.2,0.8],"nice":false},"axis":{"orient":"bottom","values":[0.2,0.3,0.4,0.5,0.6,0.7],"labelExpr":"datum.value==0.2?'0.2':datum.value==0.5?'0.5':''","labelFontSize":19,"tickSize":-5,"labelPadding":10,"labelFlush":false,"labelOffset":4,"labelOverlap":false,"title":null}},"y":{"field":"v","type":"quantitative","scale":{"type":"log","domain":[5.38e10,1.076e12],"nice":false},"axis":{"orient":"left","title":null,"values":[6e10,7e10,8e10,9e10,1e11,2e11,3e11,4e11,5e11,6e11,7e11,8e11,9e11,1e12],"labelExpr":"datum.value==1e11?'10¹¹':datum.value==5e11?'5×10¹¹':''","labelAngle":270,"labelAlign":"center","labelBaseline":"bottom","labelFontSize":19,"tickSize":{"condition":{"test":"datum.value==1e11||datum.value==1e12||datum.value==1e13","value":-10},"value":-6},"labelPadding":10,"labelOffset":-2,"labelOverlap":false}}}},
{"transform":[{"filter":"datum.p==5&&datum.s=='Lp'&&isValid(datum.lo)"}],"mark":{"type":"rule","color":"black","strokeWidth":2.5},"encoding":{"x":{"field":"r","type":"quantitative","scale":{"type":"log","domain":[0.2,0.8],"nice":false}},"y":{"field":"lo","type":"quantitative","scale":{"type":"log","domain":[5.38e10,1.076e12],"nice":false}},"y2":{"field":"hi"}}},
{"transform":[{"filter":"datum.p==5&&datum.s=='Lp'"}],"mark":{"type":"point","shape":"M-0.9,-0.55L0.9,0.55M-0.9,0.55L0.9,-0.55M0,-1L0,1","filled":false,"color":"black","strokeWidth":2.6,"size":150},"encoding":{"x":{"field":"r","type":"quantitative","scale":{"type":"log","domain":[0.2,0.8],"nice":false}},"y":{"field":"v","type":"quantitative","scale":{"type":"log","domain":[5.38e10,1.076e12],"nice":false}}}},
{"transform":[{"filter":"datum.p==5&&datum.s=='lab'"}],"mark":{"type":"text","align":"left","baseline":"alphabetic","fontSize":25,"color":"black"},"encoding":{"x":{"field":"r","type":"quantitative","scale":{"type":"log","domain":[0.2,0.8],"nice":false}},"y":{"field":"v","type":"quantitative","scale":{"type":"log","domain":[5.38e10,1.076e12],"nice":false}},"text":{"field":"t"}}}
]}
]},

{"width":387,"height":287,"resolve":{"scale":{"y":"independent"},"axis":{"x":"independent","y":"independent"}},
"layer":[
{"layer":[
{"transform":[{"filter":"datum.p==6&&datum.s=='M'"}],"mark":{"type":"line","interpolate":"step","color":"#ed1c24","strokeWidth":1.6},"encoding":{"x":{"field":"r","type":"quantitative","scale":{"type":"log","domain":[0.2,0.8],"nice":false},"axis":{"orient":"top","values":[0.3,0.4,0.5,0.6,0.7],"labels":false,"tickSize":-5,"title":null}},"y":{"field":"v","type":"quantitative","scale":{"type":"log","domain":[1.51e12,3.0e13],"nice":false},"axis":{"orient":"right","title":null,"values":[2e12,3e12,4e12,5e12,6e12,7e12,8e12,9e12,1e13,2e13],"labelExpr":"datum.value==2e12?'2×10¹²':datum.value==1e13?'10¹³':''","labelAngle":90,"labelAlign":"center","labelBaseline":"bottom","labelColor":"#ed1c24","labelFontSize":19,"tickColor":"#ed1c24","tickSize":{"condition":{"test":"datum.value==1e13","value":-10},"value":-6},"labelPadding":13,"labelOffset":8,"labelOverlap":false}}}},
{"transform":[{"filter":"datum.p==6&&datum.s=='M'"}],"mark":{"type":"point","filled":true,"size":7,"color":"#ed1c24"},"encoding":{"x":{"field":"r","type":"quantitative","scale":{"type":"log","domain":[0.2,0.8],"nice":false}},"y":{"field":"v","type":"quantitative","scale":{"type":"log","domain":[1.51e12,3.0e13],"nice":false}}}},
{"transform":[{"filter":"datum.p==6&&datum.s=='Mp'&&isValid(datum.lo)"}],"mark":{"type":"rule","color":"#ed1c24","strokeWidth":2.5},"encoding":{"x":{"field":"r","type":"quantitative","scale":{"type":"log","domain":[0.2,0.8],"nice":false}},"y":{"field":"lo","type":"quantitative","scale":{"type":"log","domain":[1.51e12,3.0e13],"nice":false}},"y2":{"field":"hi"}}},
{"transform":[{"filter":"datum.p==6&&datum.s=='Mp'"}],"mark":{"type":"point","filled":true,"size":95,"color":"#ed1c24"},"encoding":{"x":{"field":"r","type":"quantitative","scale":{"type":"log","domain":[0.2,0.8],"nice":false}},"y":{"field":"v","type":"quantitative","scale":{"type":"log","domain":[1.51e12,3.0e13],"nice":false}}}}
]},
{"layer":[
{"transform":[{"filter":"datum.p==6&&datum.s=='L'"}],"mark":{"type":"line","interpolate":"step-after","color":"black","strokeWidth":1.5},"encoding":{"x":{"field":"r","type":"quantitative","scale":{"type":"log","domain":[0.2,0.8],"nice":false},"axis":{"orient":"bottom","values":[0.2,0.3,0.4,0.5,0.6,0.7],"labelExpr":"datum.value==0.2?'0.2':datum.value==0.5?'0.5':''","labelFontSize":19,"tickSize":-5,"labelPadding":10,"labelFlush":false,"labelOffset":4,"labelOverlap":false,"title":null}},"y":{"field":"v","type":"quantitative","scale":{"type":"log","domain":[9.86e11,1.96e13],"nice":false},"axis":{"orient":"left","title":null,"values":[2e12,3e12,4e12,5e12,6e12,7e12,8e12,9e12,1e13],"labelExpr":"datum.value==2e12?'2×10¹²':datum.value==1e13?'10¹³':''","labelAngle":270,"labelAlign":"center","labelBaseline":"bottom","labelFontSize":19,"tickSize":{"condition":{"test":"datum.value==1e11||datum.value==1e12||datum.value==1e13","value":-10},"value":-6},"labelPadding":10,"labelOffset":-6,"labelOverlap":false}}}},
{"transform":[{"filter":"datum.p==6&&datum.s=='Lp'&&isValid(datum.lo)"}],"mark":{"type":"rule","color":"black","strokeWidth":2.5},"encoding":{"x":{"field":"r","type":"quantitative","scale":{"type":"log","domain":[0.2,0.8],"nice":false}},"y":{"field":"lo","type":"quantitative","scale":{"type":"log","domain":[9.86e11,1.96e13],"nice":false}},"y2":{"field":"hi"}}},
{"transform":[{"filter":"datum.p==6&&datum.s=='Lp'"}],"mark":{"type":"point","shape":"M-0.9,-0.55L0.9,0.55M-0.9,0.55L0.9,-0.55M0,-1L0,1","filled":false,"color":"black","strokeWidth":2.6,"size":150},"encoding":{"x":{"field":"r","type":"quantitative","scale":{"type":"log","domain":[0.2,0.8],"nice":false}},"y":{"field":"v","type":"quantitative","scale":{"type":"log","domain":[9.86e11,1.96e13],"nice":false}}}},
{"transform":[{"filter":"datum.p==6&&datum.s=='lab'"}],"mark":{"type":"text","align":"left","baseline":"alphabetic","fontSize":25,"color":"black"},"encoding":{"x":{"field":"r","type":"quantitative","scale":{"type":"log","domain":[0.2,0.8],"nice":false}},"y":{"field":"v","type":"quantitative","scale":{"type":"log","domain":[9.86e11,1.96e13],"nice":false}},"text":{"field":"t"}}}
]}
]}
]
}
